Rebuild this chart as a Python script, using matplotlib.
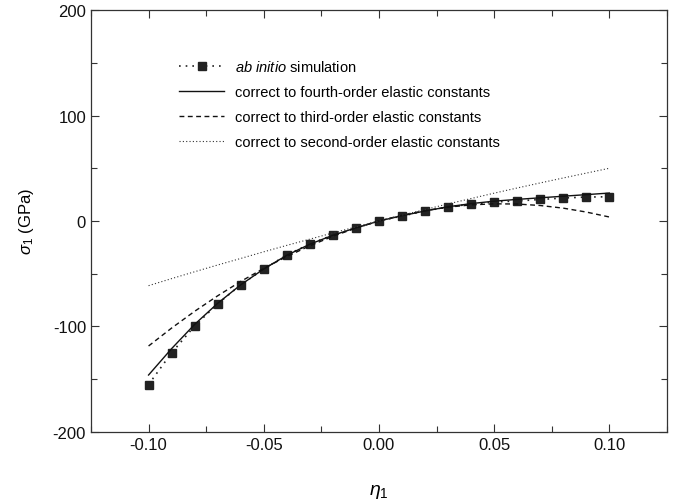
import numpy as np
import matplotlib
matplotlib.use("Agg")
import matplotlib.pyplot as plt
from matplotlib.ticker import MultipleLocator

plt.rcParams['font.family'] = ['Liberation Sans', 'DejaVu Sans']
plt.rcParams['mathtext.fontset'] = 'custom'
plt.rcParams['mathtext.rm'] = 'Liberation Sans'
plt.rcParams['mathtext.it'] = 'Liberation Sans:italic'
plt.rcParams['axes.unicode_minus'] = False

# Lagrangian strain eta_1
eta = [-0.10, -0.09, -0.08, -0.07, -0.06, -0.05, -0.04, -0.03, -0.02, -0.01,
       0.00, 0.01, 0.02, 0.03, 0.04, 0.05, 0.06, 0.07, 0.08, 0.09, 0.10]

# stress sigma_1 (GPa)
ab_initio = [-155, -125, -99.5, -78.5, -60.5, -45.5, -32.2, -21.8, -13.3, -6.6,
             0, 4.7, 9.5, 13.3, 16, 18, 19, 20.4, 21.8, 22.7, 23]
fourth_order = [-146, -121, -98, -78, -60.5, -45.5, -32.5, -22, -13.5, -6.5,
                0, 5, 9.5, 13.5, 16.5, 18.8, 20.5, 22, 23.5, 25, 26.5]
third_order = [-118.5, -101.5, -85.6, -70.9, -57.3, -44.9, -33.7, -23.5, -14.5, -6.7,
               0, 5.5, 9.9, 13.1, 15.3, 16.3, 16.1, 14.7, 12.2, 8.5, 3.8]
second_order = [-61.3, -54.6, -48.1, -41.7, -35.5, -29.2, -23.1, -17.2, -11.3, -5.6,
                0, 5.5, 10.9, 16.2, 21.3, 26.4, 31.3, 36.1, 40.8, 45.4, 50.0]

fig = plt.figure(figsize=(6.84, 5.02), dpi=100)
ax = fig.add_axes([0.133, 0.1375, 0.842, 0.8405])

ax.plot(eta, ab_initio, linestyle=(0, (1, 3)), color='#222222', lw=1.2,
        marker='s', ms=5.5, mfc='#222222', mec='#222222',
        label=r'$ab\ initio$ simulation')
ax.plot(eta, fourth_order, '-', color='#111111', lw=1.0,
        label='correct to fourth-order elastic constants')
ax.plot(eta, third_order, linestyle=(0, (3.5, 2.5)), color='#111111', lw=1.0,
        label='correct to third-order elastic constants')
ax.plot(eta, second_order, linestyle=(0, (1, 2)), color='#333333', lw=0.8,
        label='correct to second-order elastic constants')

ax.set_xlim(-0.125, 0.125)
ax.set_ylim(-200, 200)
ax.xaxis.set_major_locator(MultipleLocator(0.05))
ax.xaxis.set_minor_locator(MultipleLocator(0.025))
ax.yaxis.set_major_locator(MultipleLocator(100))
ax.yaxis.set_minor_locator(MultipleLocator(50))
ax.xaxis.set_major_formatter(plt.FuncFormatter(lambda v, p: f"{v:.2f}"))
ax.tick_params(which='both', direction='in', top=True, right=True, labelsize=12,
               color='#333333', labelcolor='#111111')
ax.tick_params(which='major', length=6, width=0.8)
ax.tick_params(which='minor', length=4, width=0.8)
for s in ax.spines.values():
    s.set_linewidth(0.9)
    s.set_color('#333333')

ax.set_xlabel(r'$\eta_1$', fontsize=14, labelpad=22)
ax.set_ylabel(r'$\sigma_1$ (GPa)', fontsize=12, labelpad=12)

ax.legend(loc='upper left', bbox_to_anchor=(0.13, 0.915), frameon=False,
          fontsize=10.5, handlelength=3.1, handletextpad=0.75, labelspacing=0.75)

fig.savefig('out.png', dpi=100)
